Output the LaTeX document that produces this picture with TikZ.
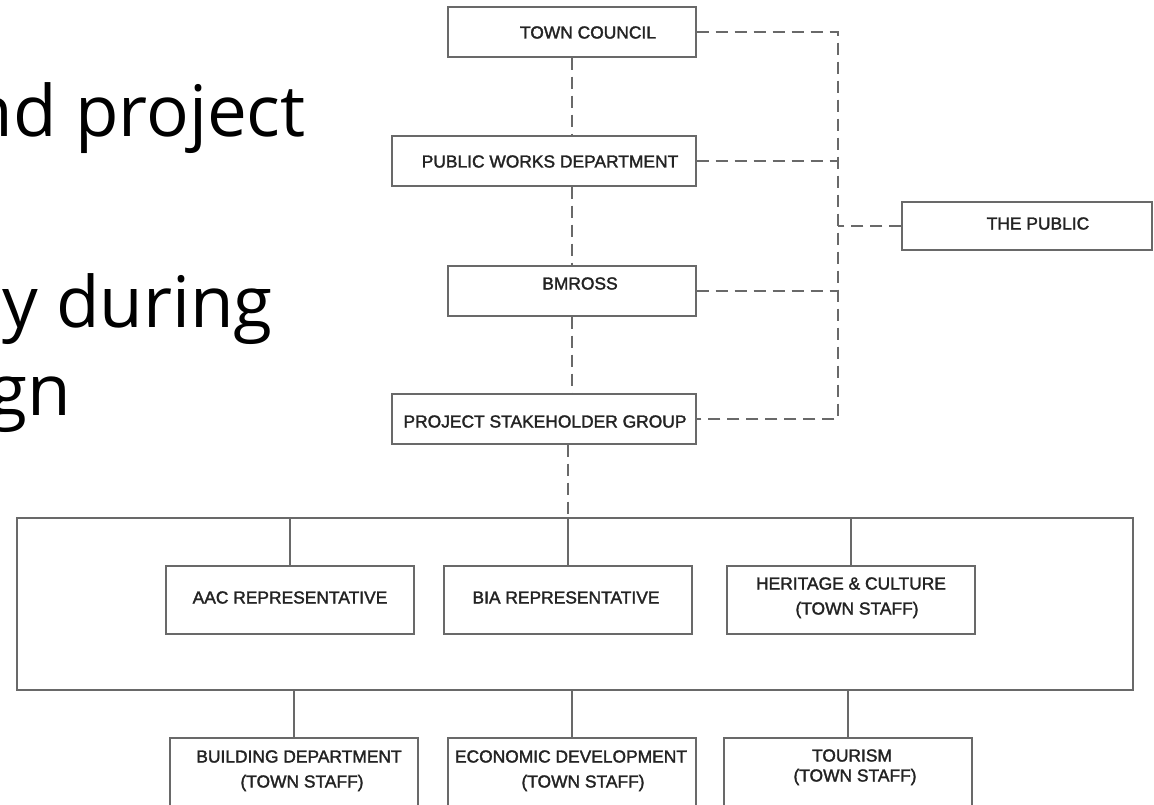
\documentclass[tikz,border=0pt]{standalone}
\usepackage{fontspec}
\setmainfont{Liberation Sans}
\newfontfamily\boxfont[FakeBold=1.8]{Liberation Sans}
\newfontfamily\slidefont{Open Sans}
\definecolor{linec}{RGB}{105,105,105}
\definecolor{txtc}{RGB}{35,35,35}
\begin{document}
\begin{tikzpicture}[x=1pt,y=-1pt,
  box/.style={draw=linec,line width=1.3pt,inner sep=0pt,fill=white},
  lbl/.style={font=\boxfont\fontsize{17.4}{20}\selectfont,text=txtc,inner sep=0pt,anchor=base},
  slide/.style={font=\slidefont\fontsize{71}{85}\selectfont,text=black,inner sep=0pt,anchor=base east},
  conn/.style={draw=linec,line width=1.3pt},
  dashconn/.style={draw=linec,line width=1.3pt,dash pattern=on 12pt off 7pt}]
\useasboundingbox (0,0) rectangle (1154,805);
\clip (0,0) rectangle (1154,805);
\fill[white] (0,0) rectangle (1154,805);

% slide text (cut off on the left)
\node[slide] (s1) at (306,137) {nd project};
\node[slide] (s2) at (273,327) {y during};
\node[slide] (s3) at (71,415) {gn};

% upper chain
\node[box,minimum width=248pt,minimum height=50pt] (tc) at (572,32) {};
\node[box,minimum width=304pt,minimum height=50pt] (pwd) at (544,161) {};
\node[box,minimum width=248pt,minimum height=50pt] (bm) at (572,291) {};
\node[box,minimum width=304pt,minimum height=50pt] (psg) at (544,419) {};
\node[box,minimum width=250pt,minimum height=48pt] (pub) at (1027,226) {};

\node[lbl] (ttc) at (588,38.5) {TOWN COUNCIL};
\node[lbl] (tpwd) at (550,167.5) {PUBLIC WORKS DEPARTMENT};
\node[lbl] (tbm) at (580,289.5) {BMROSS};
\node[lbl] (tpsg) at (545,427.5) {PROJECT STAKEHOLDER GROUP};
\node[lbl] (tpub) at (1038,229.5) {THE PUBLIC};

% right side connector
\coordinate (R) at (838,226);
\draw[dashconn] (tc.east) -- (tc.east -| R) -- (psg.east -| R) -- (psg.east);
\draw[dashconn] (pwd.east) -- (pwd.east -| R);
\draw[dashconn] (bm.east) -- (bm.east -| R);
\draw[dashconn] (pub.west) -- (pub.west -| R);

% group
\node[box,minimum width=1116pt,minimum height=172pt,fill=none] (big) at (575,604) {};
\node[box,minimum width=248pt,minimum height=68pt] (aac) at (290,600) {};
\node[box,minimum width=248pt,minimum height=68pt] (bia) at (568,600) {};
\node[box,minimum width=248pt,minimum height=68pt] (her) at (851,600) {};
\node[box,minimum width=248pt,minimum height=72pt] (bld) at (294,774) {};
\node[box,minimum width=248pt,minimum height=72pt] (eco) at (572,774) {};
\node[box,minimum width=248pt,minimum height=72pt] (tou) at (848,774) {};

\node[lbl] (taac) at (290,603.5) {AAC REPRESENTATIVE};
\node[lbl] (tbia) at (566,603.5) {BIA REPRESENTATIVE};
\node[lbl] (ther1) at (851,589.5) {HERITAGE \& CULTURE};
\node[lbl] (ther2) at (857,614.5) {(TOWN STAFF)};
\node[lbl] (tbld1) at (299,762.5) {BUILDING DEPARTMENT};
\node[lbl] (tbld2) at (302,787.5) {(TOWN STAFF)};
\node[lbl] (teco1) at (571,762.5) {ECONOMIC DEVELOPMENT};
\node[lbl] (teco2) at (583,787.5) {(TOWN STAFF)};
\node[lbl] (ttou1) at (852,761.5) {TOURISM};
\node[lbl] (ttou2) at (855,781.5) {(TOWN STAFF)};

% vertical chain
\draw[dashconn] (tc.south) -- (tc.south |- pwd.north);
\draw[dashconn] (bm.north |- pwd.south) -- (bm.north);
\draw[dashconn] (bm.south) -- (bm.south |- psg.north);
\draw[dashconn] (bia.north |- psg.south) -- (bia.north |- big.north);
\draw[conn] (bia.north |- big.north) -- (bia.north);
\draw[conn] (aac.north |- big.north) -- (aac.north);
\draw[conn] (her.north |- big.north) -- (her.north);
\draw[conn] (bld.north |- big.south) -- (bld.north);
\draw[conn] (eco.north |- big.south) -- (eco.north);
\draw[conn] (tou.north |- big.south) -- (tou.north);
\end{tikzpicture}
\end{document}
